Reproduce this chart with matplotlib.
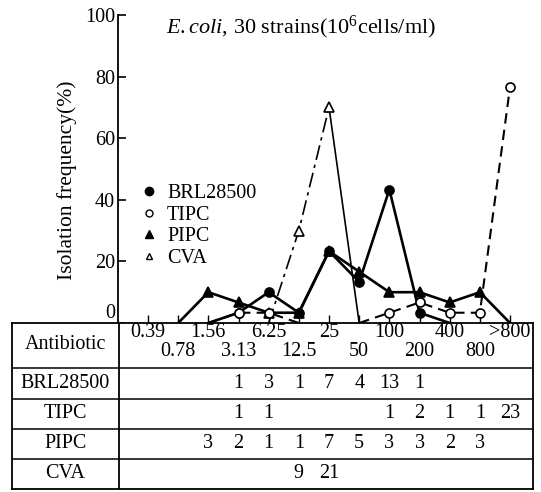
import matplotlib
matplotlib.use("Agg")
import matplotlib.pyplot as plt
from matplotlib.lines import Line2D

plt.rcParams['font.family'] = ['Liberation Serif', 'DejaVu Serif']
plt.rcParams['mathtext.fontset'] = 'custom'
plt.rcParams['mathtext.rm'] = 'Liberation Serif'
plt.rcParams['mathtext.it'] = 'Liberation Serif:italic'

# MIC classes (ug/ml) and number of strains per class (30 strains total)
mic_labels = ['0.39', '0.78', '1.56', '3.13', '6.25', '12.5', '25',
              '50', '100', '200', '400', '800', '>800']
n_strains = 30
brl_counts = [0, 0, 0, 1, 3, 1, 7, 4, 13, 1, 0, 0, 0]
tipc_counts = [0, 0, 0, 1, 1, 0, 0, 0, 1, 2, 1, 1, 23]
pipc_counts = [0, 0, 3, 2, 1, 1, 7, 5, 3, 3, 2, 3, 0]
cva_counts = [0, 0, 0, 0, 0, 9, 21, 0, 0, 0, 0, 0, 0]

# index ranges over which each curve is drawn (from/to zero baseline)
brl_span = [(2, 10)]
tipc_span = [(2, 5), (7, 12)]
pipc_span = [(1, 12)]
cva_up = (4, 6)
cva_down = (6, 7)

W, H = 541, 492
fig = plt.figure(figsize=(W / 100, H / 100), dpi=100)

x0, dx = 148, 30.17      # pixel of first class, pixel spacing


def px2x(p):
    return (p - x0) / dx


def add_ax(l, t, r, b):
    return fig.add_axes([l / W, 1 - b / H, (r - l) / W, (b - t) / H])


pct = lambda c: [v / n_strains * 100 for v in c]
idx = list(range(len(mic_labels)))

# ---- main plot ----
ax = add_ax(118, 15, 533, 323)
ax.set_xlim(px2x(118), px2x(533))
ax.set_ylim(0, 100)
for s in ['top', 'right', 'bottom']:
    ax.spines[s].set_visible(False)
ax.spines['left'].set_linewidth(1.3)


def draw(counts, spans, ls, lw, marker, mfc, dashes=None):
    y = pct(counts)
    for a, b in spans:
        line, = ax.plot(idx[a:b + 1], y[a:b + 1], color='black', lw=lw, ls=ls)
        if dashes:
            line.set_dashes(dashes)
    mx = [i for i in idx if counts[i] > 0]
    ax.plot(mx, [y[i] for i in mx], ls='none', marker=marker, ms=6.5,
            mfc=mfc, mec='black', mew=1.2, zorder=4)


draw(brl_counts, brl_span, '-', 1.9, 'o', 'black')
draw(pipc_counts, pipc_span, '-', 1.9, '^', 'black')
draw(tipc_counts, tipc_span, '--', 1.5, 'o', 'white', dashes=(5, 3))
cva_pct = pct(cva_counts)
l, = ax.plot(idx[cva_up[0]:cva_up[1] + 1], cva_pct[cva_up[0]:cva_up[1] + 1],
             color='black', lw=1.2)
l.set_dashes((9, 3, 2, 3))
ax.plot(idx[cva_down[0]:cva_down[1] + 1], cva_pct[cva_down[0]:cva_down[1] + 1],
        color='black', lw=1.2)
ax.plot([5, 6], [cva_pct[5], cva_pct[6]], ls='none', marker='^', ms=7,
        mfc='white', mec='black', mew=1.2, zorder=4)

ax.set_yticks([0, 20, 40, 60, 80, 100])
ax.set_xticks(idx)
ax.tick_params(axis='y', direction='in', length=6, width=1.2, labelsize=14.5, pad=2)
ax.tick_params(axis='x', direction='in', length=6, width=1.0, labelbottom=False)
ax.get_yticklabels()[0].set_va('bottom')

handles = [
    Line2D([], [], ls='none', marker='o', ms=6, mfc='black', mec='black'),
    Line2D([], [], ls='none', marker='o', ms=5, mfc='white', mec='black'),
    Line2D([], [], ls='none', marker='^', ms=6, mfc='black', mec='black'),
    Line2D([], [], ls='none', marker='^', ms=5, mfc='white', mec='black'),
]
ax.legend(handles, ['BRL28500', 'TIPC', 'PIPC', 'CVA'], loc='upper left',
          bbox_to_anchor=((141 - 118) / 415, 1 - (184 - 15) / 308),
          frameon=False, fontsize=14.5, handlelength=0.8, handletextpad=0.5,
          labelspacing=0.12, borderpad=0, borderaxespad=0)

fig.text(301 / W, 1 - 27 / H,
         r"$\mathit{E.coli}$, 30 strains(10$^{6}$cells/ml)",
         ha='center', va='center', fontsize=16)
fig.text(67 / W, 1 - 180 / H, 'Isolation frequency(%)', rotation=90,
         ha='center', va='center', fontsize=15.5)

# ---- table ----
tb = add_ax(12, 323, 533, 489)
tb.set_xlim(px2x(12), px2x(533))
tb.set_ylim(489, 323)
tb.set_xticks([])
tb.set_yticks([])
for s in tb.spines.values():
    s.set_linewidth(1.3)
row_lines = [368, 399, 429, 459]
for yl in row_lines:
    tb.axhline(yl, color='black', lw=1.1)
tb.axvline(px2x(119), color='black', lw=1.3)

label_x = px2x((12 + 119) / 2)
tb.text(label_x, 345, 'Antibiotic', ha='center', va='center', fontsize=14.5)
for i, lab in enumerate(mic_labels):
    yy = 333 if i % 2 == 0 else 352
    tb.text(i, yy, lab, ha='center', va='center', fontsize=14.5)

row_names = ['BRL28500', 'TIPC', 'PIPC', 'CVA']
row_counts = [brl_counts, tipc_counts, pipc_counts, cva_counts]
row_y = [384, 414, 444, 474]
for name, counts, yy in zip(row_names, row_counts, row_y):
    tb.text(label_x, yy, name, ha='center', va='center', fontsize=14.5)
    for i, c in enumerate(counts):
        if c > 0:
            tb.text(i, yy, str(c), ha='center', va='center', fontsize=14.5)

fig.savefig('out.png', dpi=100)
